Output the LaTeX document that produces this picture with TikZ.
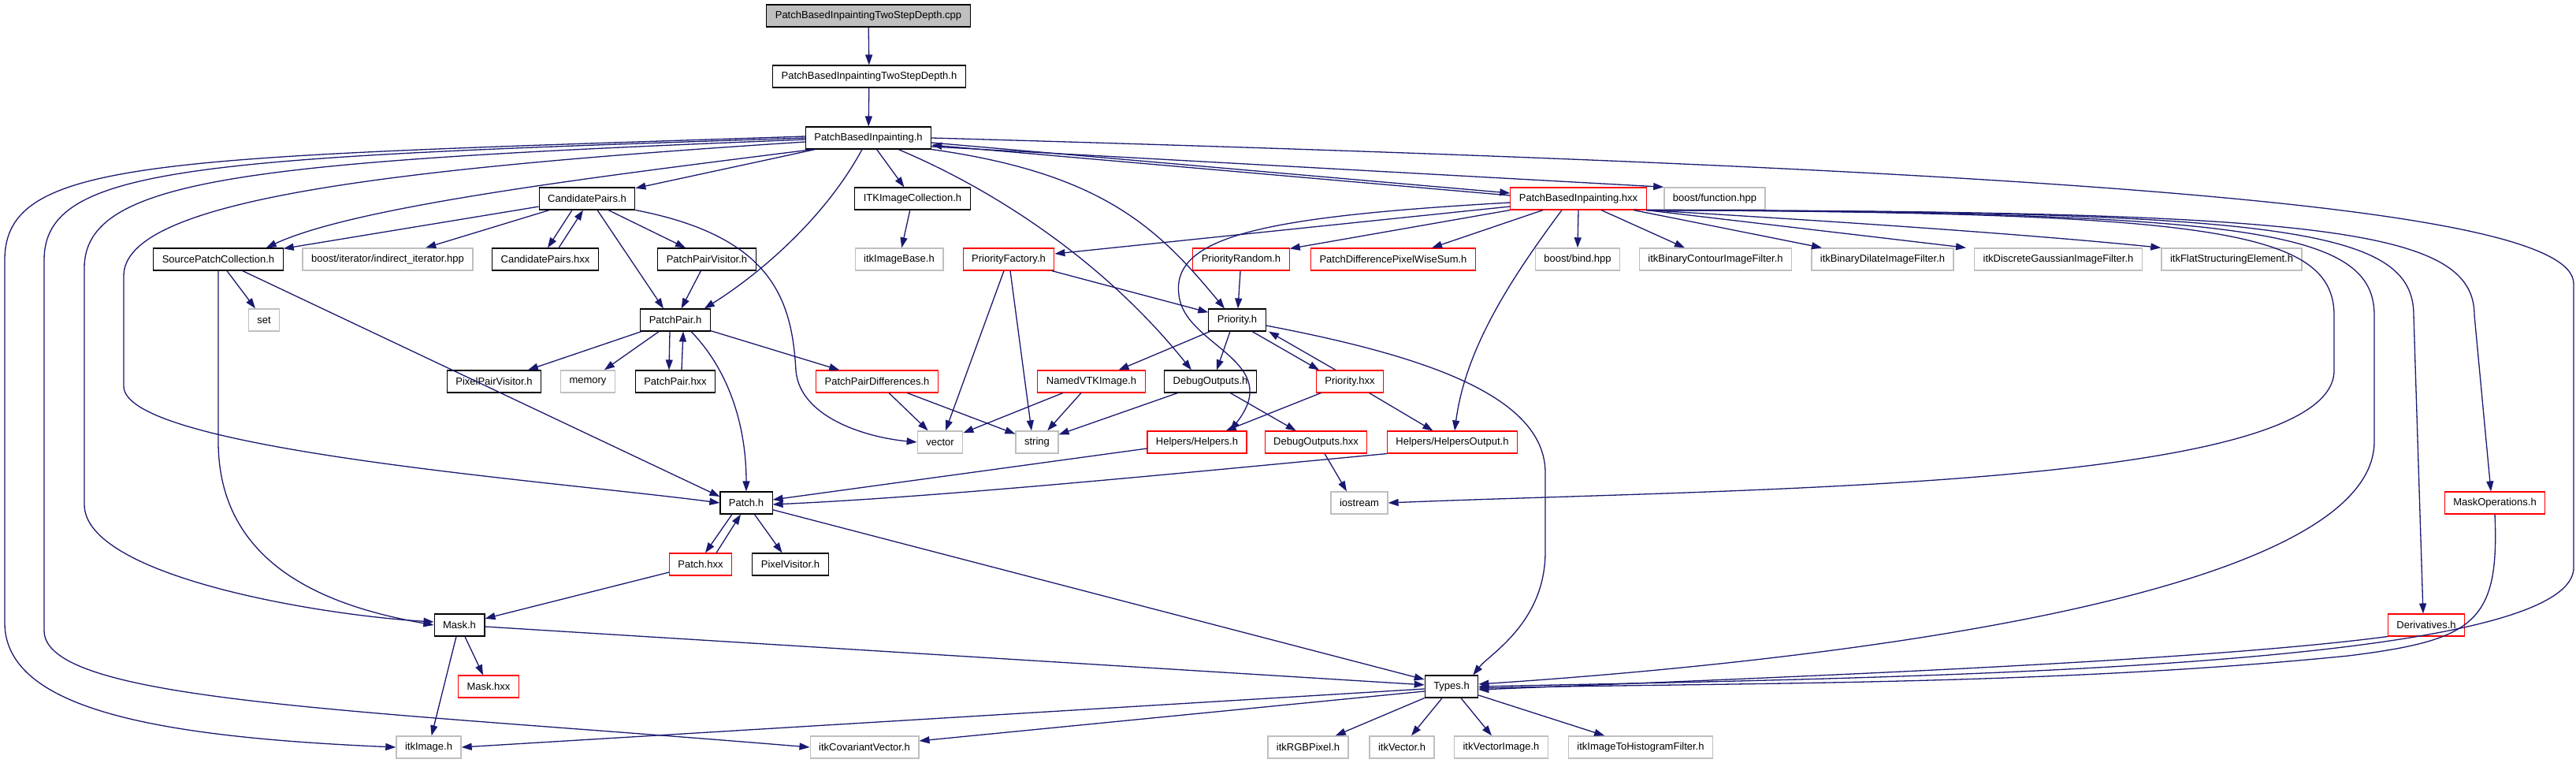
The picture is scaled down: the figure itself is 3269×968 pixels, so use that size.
\documentclass[tikz,border=0pt]{standalone}
\usepackage{fontspec}
\setmainfont{Liberation Sans}
\usetikzlibrary{arrows.meta}
\definecolor{edgeblue}{RGB}{25,25,112}
\definecolor{boxgray}{RGB}{191,191,191}
\begin{document}
\begin{tikzpicture}[x=1pt,y=-1pt,
  filebox/.style={draw=black,line width=1.1pt,minimum height=28pt,inner xsep=11pt,inner ysep=0pt,
    font=\fontsize{13}{15}\selectfont},
  redbox/.style={filebox,draw=red},
  extbox/.style={filebox,draw=boxgray,line width=1.4pt},
  rootbox/.style={filebox,fill=boxgray},
  incl/.style={draw=edgeblue,line width=1.3pt,-{Triangle[length=13pt,width=9pt]}}]
% page
\fill[white] (0,0) rectangle (3269,968);
% row 1-3
\node[rootbox] (cpp)     at (1102, 20) {PatchBasedInpaintingTwoStepDepth.cpp};
\node[filebox] (tsd)     at (1103, 97) {PatchBasedInpaintingTwoStepDepth.h};
\node[filebox] (pbi)     at (1102,175) {PatchBasedInpainting.h};
% row 4
\node[filebox] (cand)    at ( 745,252) {CandidatePairs.h};
\node[filebox] (itkcoll) at (1158,252) {ITKImageCollection.h};
\node[redbox]  (pbihxx)  at (2003,252) {PatchBasedInpainting.hxx};
\node[extbox]  (bfunc)   at (2176,252) {boost/function.hpp};
% row 5
\node[filebox] (spc)       at ( 277,329) {SourcePatchCollection.h};
\node[extbox]  (biter)     at ( 492,329) {boost/iterator/indirect\_iterator.hpp};
\node[filebox] (candhxx)   at ( 692,329) {CandidatePairs.hxx};
\node[filebox] (ppvis)     at ( 897,329) {PatchPairVisitor.h};
\node[extbox]  (itkbase)   at (1141,329) {itkImageBase.h};
\node[redbox]  (pfact)     at (1280,329) {PriorityFactory.h};
\node[redbox]  (prand)     at (1575,329) {PriorityRandom.h};
\node[redbox]  (pdiff)     at (1768,329) {PatchDifferencePixelWiseSum.h};
\node[extbox]  (bbind)     at (2002,329) {boost/bind.hpp};
\node[extbox]  (itkbcont)  at (2177,329) {itkBinaryContourImageFilter.h};
\node[extbox]  (itkbdil)   at (2389,329) {itkBinaryDilateImageFilter.h};
\node[extbox]  (itkdgauss) at (2612,329) {itkDiscreteGaussianImageFilter.h};
\node[extbox]  (itkflat)   at (2832,329) {itkFlatStructuringElement.h};
% row 6
\node[extbox]  (set)     at ( 335,406) {set};
\node[filebox] (ppair)   at ( 857,406) {PatchPair.h};
\node[filebox] (prio)    at (1570,406) {Priority.h};
% row 7
\node[filebox] (pxpvis)   at ( 627,484) {PixelPairVisitor.h};
\node[extbox]  (memory)   at ( 746,484) {memory};
\node[filebox] (ppairhxx) at ( 857,484) {PatchPair.hxx};
\node[redbox]  (ppdiff)   at (1113,484) {PatchPairDifferences.h};
\node[redbox]  (nvtk)     at (1385,484) {NamedVTKImage.h};
\node[filebox] (dbg)      at (1536,484) {DebugOutputs.h};
\node[redbox]  (priohxx)  at (1713,484) {Priority.hxx};
% row 8
\node[extbox]  (vector)  at (1193,561) {vector};
\node[extbox]  (string)  at (1316,561) {string};
\node[redbox]  (helpers) at (1519,561) {Helpers/Helpers.h};
\node[redbox]  (dbghxx)  at (1670,561) {DebugOutputs.hxx};
\node[redbox]  (helpout) at (1843,561) {Helpers/HelpersOutput.h};
% row 9-10
\node[filebox] (patch)    at ( 947,638) {Patch.h};
\node[extbox]  (iostream) at (1725,638) {iostream};
\node[redbox]  (maskops)  at (3166,638) {MaskOperations.h};
\node[redbox]  (patchhxx) at ( 889,716) {Patch.hxx};
\node[filebox] (pxvis)    at (1003,716) {PixelVisitor.h};
% row 11-12
\node[filebox] (mask)    at ( 583,793) {Mask.h};
\node[redbox]  (deriv)   at (3079,793) {Derivatives.h};
\node[redbox]  (maskhxx) at ( 620,871) {Mask.hxx};
\node[filebox] (types)   at (1842,871) {Types.h};
% row 13
\node[extbox]  (itkimage)  at ( 544,948) {itkImage.h};
\node[extbox]  (itkcov)    at (1097,948) {itkCovariantVector.h};
\node[extbox]  (itkrgb)    at (1660,948) {itkRGBPixel.h};
\node[extbox]  (itkvec)    at (1779,948) {itkVector.h};
\node[extbox]  (itkvecimg) at (1905,948) {itkVectorImage.h};
\node[extbox]  (itkhist)   at (2082,948) {itkImageToHistogramFilter.h};
% top
\draw[incl] (cpp) -- (tsd);
\draw[incl] (tsd) -- (pbi);
% PatchBasedInpainting.h
\draw[incl] (pbi) -- (cand);
\draw[incl] (pbi) -- (itkcoll);
\draw[incl] ([yshift=-6pt]pbi.east) -- ([yshift=7pt]pbihxx.west);
\draw[incl] ([yshift=4pt]pbihxx.west) -- ([yshift=-9pt]pbi.east);
\draw[incl] ([yshift=-11pt]pbi.east) -- (bfunc.north west);
\draw[incl] (pbi.east) .. controls (2600,215) and (3266,260) .. (3266,360) -- (3266,720)
  .. controls (3266,850) and (2400,860) .. (types.east);
\draw[incl] ([yshift=2pt]pbi.west) .. controls (200,200) and (6,200) .. (6,330) -- (6,790)
  .. controls (6,900) and (200,935) .. (itkimage.west);
\draw[incl] (pbi.west) .. controls (250,200) and (56,210) .. (56,330) -- (56,800)
  .. controls (56,890) and (450,900) .. (itkcov.west);
\draw[incl] ([yshift=-2pt]pbi.west) .. controls (320,205) and (107,225) .. (107,340) -- (107,640)
  .. controls (107,730) and (400,780) .. ([yshift=4pt]mask.west);
\draw[incl] ([yshift=-5pt]pbi.west) .. controls (480,215) and (157,255) .. (157,350) -- (157,490)
  .. controls (157,570) and (700,610) .. (patch.west);
\draw[incl] ([xshift=10pt]pbi.south west) .. controls (750,225) and (450,262) .. ([xshift=-22pt]spc.north east);
\draw[incl] ([xshift=-8pt]pbi.south) .. controls (1045,280) and (960,350) .. ([xshift=-8pt]ppair.north east);
\draw[incl] ([xshift=38pt]pbi.south) .. controls (1260,240) and (1400,330) .. ([xshift=-24pt]dbg.north);
\draw[incl] (pbi.south east) .. controls (1400,220) and (1470,290) .. ([xshift=-16pt]prio.north);
% CandidatePairs.h
\draw[incl] (cand) -- (spc);
\draw[incl] (cand) -- (biter);
\draw[incl] ([xshift=-19pt]cand.south) -- ([xshift=3pt]candhxx.north);
\draw[incl] ([xshift=17pt]candhxx.north) -- ([xshift=-5pt]cand.south);
\draw[incl] ([xshift=13pt]cand.south) -- ([xshift=-15pt]ppair.north);
\draw[incl] ([xshift=27pt]cand.south) -- ([xshift=-27pt]ppvis.north);
\draw[incl] (cand.south east) .. controls (980,300) and (1005,380) .. (1010,470)
  .. controls (1015,530) and (1100,555) .. (vector.west);
\draw[incl] (ppvis) -- (ppair);
% SourcePatchCollection.h
\draw[incl] (spc) -- (set);
\draw[incl] (spc) -- ([yshift=8pt]patch.west);
\draw[incl] (spc.south) -- (277,560) .. controls (277,720) and (420,770) .. (mask.west);
% PatchPair.h
\draw[incl] (ppair) -- (pxpvis);
\draw[incl] (ppair) -- (memory);
\draw[incl] ([xshift=-7pt]ppair.south) -- ([xshift=-8pt]ppairhxx.north);
\draw[incl] ([xshift=8pt]ppairhxx.north) -- ([xshift=10pt]ppair.south);
\draw[incl] ([xshift=20pt]ppair.south) .. controls (925,470) and (947,540) .. (patch.north);
\draw[incl] (ppair) -- (ppdiff);
\draw[incl] (ppdiff) -- (vector);
\draw[incl] (ppdiff) -- (string);
% PriorityFactory.h, Priority.h
\draw[incl] (pfact) -- (prio);
\draw[incl] ([xshift=-6pt]pfact.south) -- ([xshift=7pt]vector.north);
\draw[incl] ([xshift=2pt]pfact.south) -- ([xshift=-7pt]string.north);
\draw[incl] (prand) -- (prio);
\draw[incl] (prio) -- (nvtk);
\draw[incl] ([xshift=-9pt]prio.south) -- ([xshift=8pt]dbg.north);
\draw[incl] ([xshift=19pt]prio.south) -- ([xshift=-39pt]priohxx.north);
\draw[incl] ([xshift=-18pt]priohxx.north) -- ([xshift=40pt]prio.south);
\draw[incl] ([yshift=-7pt]prio.east) .. controls (1800,450) and (1961,500) .. (1961,600) -- (1961,700)
  .. controls (1961,790) and (1890,830) .. ([xshift=-7pt]types.north east);
\draw[incl] (nvtk) -- (vector);
\draw[incl] (nvtk) -- (string);
\draw[incl] (dbg) -- (string);
\draw[incl] (dbg) -- (dbghxx);
\draw[incl] (priohxx) -- (helpers);
\draw[incl] (priohxx) -- (helpout);
% PatchBasedInpainting.hxx
\draw[incl] ([yshift=-10pt]pbihxx.west) -- ([yshift=7pt]pfact.east);
\draw[incl] (pbihxx.south west) -- ([yshift=-1pt]prand.north east);
\draw[incl] ([xshift=-45pt]pbihxx.south) -- ([xshift=49pt]pdiff.north);
\draw[incl] (pbihxx.south) -- (bbind.north);
\draw[incl] ([xshift=29pt]pbihxx.south) -- ([xshift=-39pt]itkbcont.north);
\draw[incl] ([xshift=70pt]pbihxx.south) -- ([xshift=-77pt]itkbdil.north);
\draw[incl] ([xshift=-1pt]pbihxx.south east) -- ([xshift=-117pt]itkdgauss.north);
\draw[incl] (pbihxx.south east) .. controls (2400,285) and (2600,300) .. (itkflat.north west);
\draw[incl] ([yshift=-5pt]pbihxx.west) .. controls (1600,275) and (1480,300) .. (1497,380)
  .. controls (1510,440) and (1630,460) .. ([xshift=42pt]helpers.north);
\draw[incl] ([xshift=-21pt]pbihxx.south) .. controls (1920,350) and (1860,440) .. ([xshift=3pt]helpout.north);
\draw[incl] (pbihxx.south east) .. controls (2800,270) and (2962,290) .. (2962,400) -- (2962,470)
  .. controls (2962,620) and (2200,620) .. (iostream.east);
\draw[incl] (pbihxx.south east) .. controls (2850,270) and (3013,290) .. (3013,400) -- (3013,560)
  .. controls (3013,760) and (2300,840) .. ([yshift=3pt]types.east);
\draw[incl] (pbihxx.south east) .. controls (2900,268) and (3063,290) .. (3063,400) -- ([xshift=-4pt]deriv.north);
\draw[incl] (pbihxx.south east) .. controls (2950,268) and (3140,290) .. (3140,400) -- ([xshift=-5pt]maskops.north);
% MaskOperations.h, Derivatives.h
\draw[incl] (maskops.south) .. controls (3172,790) and (3140,812) .. (2980,832)
  .. controls (2600,870) and (2200,866) .. ([yshift=-2pt]types.east);
\draw[incl] (deriv.south west) .. controls (2800,838) and (2300,858) .. ([yshift=-4pt]types.east);
% Helpers
\draw[incl] ([yshift=-8pt]helpers.west) -- ([yshift=4pt]patch.east);
\draw[incl] (helpout.south west) .. controls (1500,600) and (1200,630) .. ([yshift=-2pt]patch.east);
\draw[incl] ([xshift=11pt]dbghxx.south) -- ([xshift=-16pt]iostream.north);
% Patch.h
\draw[incl] ([xshift=-18pt]patch.south) -- ([xshift=6pt]patchhxx.north);
\draw[incl] ([xshift=20pt]patchhxx.north) -- ([xshift=-7pt]patch.south);
\draw[incl] (patch) -- (pxvis);
\draw[incl] (patch) -- (types);
\draw[incl] (patchhxx) -- (mask);
% Mask.h
\draw[incl] (mask) -- (maskhxx);
\draw[incl] ([xshift=-4pt]mask.south) -- (itkimage);
\draw[incl] (mask) -- (types);
% Types.h
\draw[incl] ([yshift=-3pt]types.west) -- (itkimage.east);
\draw[incl] ([yshift=-6pt]types.west) -- ([yshift=8pt]itkcov.east);
\draw[incl] (types) -- (itkrgb);
\draw[incl] (types) -- (itkvec);
\draw[incl] (types) -- (itkvecimg);
\draw[incl] (types) -- (itkhist);
% ITKImageCollection.h
\draw[incl] (itkcoll) -- (itkbase);
\end{tikzpicture}
\end{document}
